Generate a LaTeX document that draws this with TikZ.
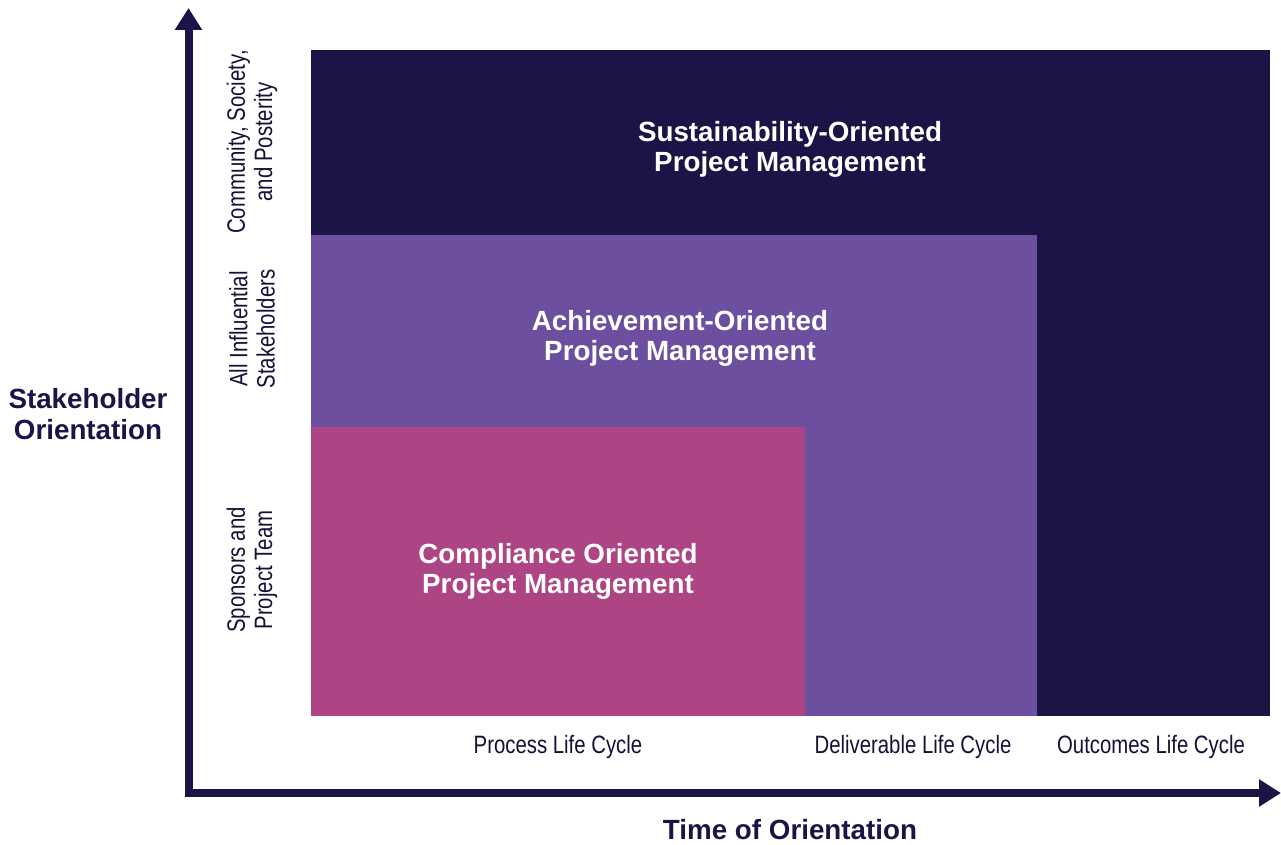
\documentclass[tikz,border=0pt]{standalone}
\usepackage{fontspec}
\setmainfont{Liberation Sans}
\newfontfamily\narrowfont{Liberation Sans}[FakeStretch=0.81]
\usetikzlibrary{arrows.meta}
\definecolor{navy}{HTML}{1B1447}
\definecolor{violet}{HTML}{6C4F9E}
\definecolor{plum}{HTML}{AD4585}
\begin{document}
\begin{tikzpicture}[x=0.2mm, y=-0.2mm,
   zone/.style={font=\bfseries\fontsize{15.8}{17}\selectfont, text=white, align=center},
   axistitle/.style={font=\bfseries\fontsize{15.8}{18}\selectfont, text=navy, align=center},
   band/.style={font=\narrowfont\fontsize{14.3}{15.4}\selectfont, text=navy!80!black, align=center},
   axis/.style={draw=navy, line width=8*0.569pt, line join=miter,
                {Triangle[length=4.4mm,width=5.2mm]}-{Triangle[length=4.4mm,width=5.2mm]}}]

\useasboundingbox (0,0) rectangle (1281,844);

% nested areas
\fill[navy]   (311,50)  rectangle (1270,716);
\fill[violet] (311,235) rectangle (1037,716);
\fill[plum]   (311,427) rectangle (805,716);

\node[zone] (sustain) at (790,149) {Sustainability-Oriented\\Project Management};
\node[zone] (achieve) at (680,338) {Achievement-Oriented\\Project Management};
\node[zone] (comply)  at (558,571) {Compliance Oriented\\Project Management};

% axes
\coordinate (origin) at (188.5,793);
\coordinate (ytip) at (188.5,8);
\coordinate (xtip) at (1281,793);
\draw[axis] (ytip) -- (origin) -- (xtip);

\node[band, rotate=90] (community) at (252,142) {Community, Society,\\and Posterity};
\node[band, rotate=90] (influential) at (252,329) {All Influential\\Stakeholders};
\node[band, rotate=90] (sponsors) at (252,570) {Sponsors and\\Project Team};

\node[band] (process) at (558,747) {Process Life Cycle};
\node[band] (deliverable) at (913,747) {Deliverable Life Cycle};
\node[band] (outcomes) at (1151,747) {Outcomes Life Cycle};

\node[axistitle] (stake) at (88,414) {Stakeholder\\Orientation};
\node[axistitle] (time) at (790,830) {Time of Orientation};

\end{tikzpicture}
\end{document}
